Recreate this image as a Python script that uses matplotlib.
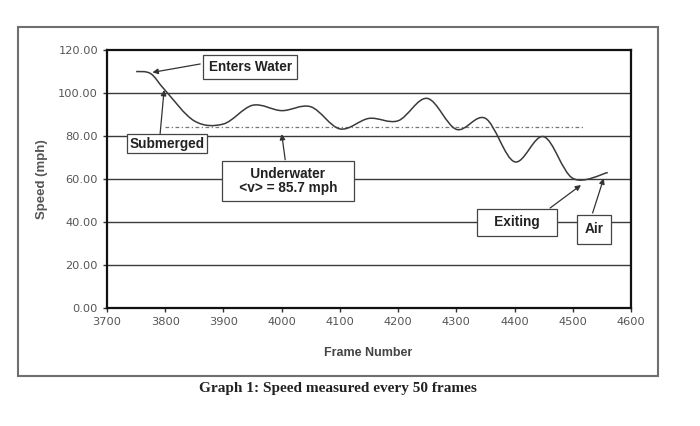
import matplotlib
matplotlib.use("Agg")
import matplotlib.pyplot as plt
import numpy as np
from matplotlib.path import Path
from matplotlib.patches import PathPatch, Rectangle

# Données
frames = [3750, 3775, 3800, 3850, 3900, 3950, 4000, 4050, 4100, 4150, 4200,
          4250, 4300, 4350, 4400, 4450, 4500, 4560]
speed = [110.0, 109.0, 101.2, 87.0, 85.6, 94.3, 91.8, 93.6, 83.3, 88.2, 87.1,
         97.5, 83.1, 88.2, 68.0, 79.7, 60.3, 63.0]

avg_frames = [3800, 4520]
avg_speed = 84.0

x_ticks = [3700, 3800, 3900, 4000, 4100, 4200, 4300, 4400, 4500, 4600]
y_ticks = [0, 20, 40, 60, 80, 100, 120]

# (texte, position du texte, départ flèche, pointe flèche, pad)
notes = [
    ("Enters Water", (3946, 112.1), (3860, 113.5), (3778, 109.6), 0.4),
    ("Submerged", (3803, 76.5), (3791, 80.5), (3798, 101.4), 0.2),
    ("   Underwater   \n   <v> = 85.7 mph   ", (4011, 59.0), (4006, 69.0), (4000, 80.9), 0.42),
    ("   Exiting   ", (4404, 39.8), (4461, 46.5), (4514, 57.2), 0.45),
    ("Air", (4537, 36.7), (4534, 44.2), (4553, 60.3), 0.55),
]

fig = plt.figure(figsize=(7, 4.26), dpi=100)
fig.patches.append(Rectangle((0.0257, 0.1174), 0.914, 0.8192, transform=fig.transFigure,
                             fill=False, edgecolor="#6f6f6f", linewidth=1.5))
ax = fig.add_axes([0.1529, 0.277, 0.7486, 0.6056])

# courbe lissée (Bézier, comme Excel)
x = np.array(frames, dtype=float)
y = np.array(speed, dtype=float)
verts = [(x[0], y[0])]
codes = [Path.MOVETO]
n = len(x)
for i in range(n - 1):
    i0 = max(i - 1, 0)
    i3 = min(i + 2, n - 1)
    c1 = (x[i] + (x[i + 1] - x[i0]) / 6, y[i] + (y[i + 1] - y[i0]) / 6)
    c2 = (x[i + 1] - (x[i3] - x[i]) / 6, y[i + 1] - (y[i3] - y[i]) / 6)
    verts += [c1, c2, (x[i + 1], y[i + 1])]
    codes += [Path.CURVE4] * 3
ax.add_patch(PathPatch(Path(verts, codes), facecolor="none", edgecolor="#3a3a3a",
                       linewidth=1.1, zorder=3))

ax.plot(avg_frames, [avg_speed, avg_speed], color="#777777", linestyle=(0, (3, 2, 1, 2)),
        linewidth=0.9, zorder=2)

for t in y_ticks[1:-1]:
    ax.axhline(t, color="#3a3a3a", linewidth=1.0, zorder=1)

for text, pos, start, tip, pad in notes:
    ax.annotate("", xy=tip, xytext=start,
                arrowprops=dict(arrowstyle="-|>", color="#333333", lw=0.9,
                                mutation_scale=8, shrinkA=0, shrinkB=0), zorder=4)
    ax.text(pos[0], pos[1], text, ha="center", va="center", fontsize=9.8, fontweight="bold",
            family="Liberation Sans", color="#222222", linespacing=1.05, zorder=5,
            bbox=dict(boxstyle="square,pad=%s" % pad, facecolor="white",
                      edgecolor="#444444", linewidth=0.9))

ax.set_xlim(3700, 4600)
ax.set_ylim(0, 120)
ax.set_xticks(x_ticks)
ax.set_yticks(y_ticks)
ax.set_yticklabels(["%.2f" % v for v in y_ticks])
ax.tick_params(labelsize=8.2, labelcolor="#555555", length=3, width=1, color="#333333")
for s in ax.spines.values():
    s.set_linewidth(1.6)
    s.set_color("#111111")

ax.set_ylabel("Speed (mph)", fontsize=9.5, fontweight="bold", color="#555555",
              family="Liberation Sans")
ax.yaxis.set_label_coords(-0.112, 0.5)
ax.set_xlabel("Frame Number", fontsize=9, fontweight="bold", color="#444444",
              family="Liberation Sans")
ax.xaxis.set_label_coords(0.498, -0.15)

fig.text(0.483, 0.087, "Graph 1: Speed measured every 50 frames", ha="center", va="center",
         fontsize=11, fontweight="bold", family="Liberation Serif", color="#222222")

fig.savefig("out.png", dpi=100)
